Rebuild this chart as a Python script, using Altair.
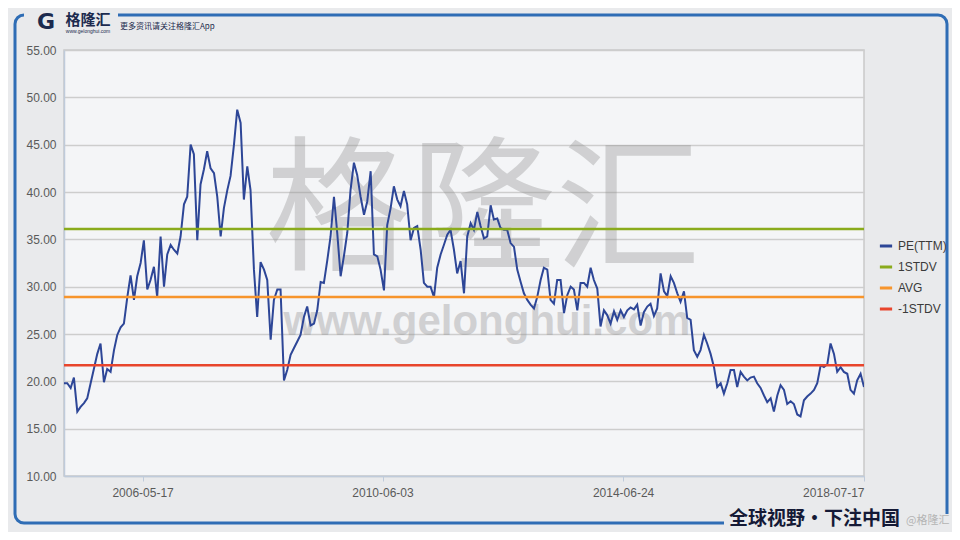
import altair as alt
import pandas as pd

# ---------------- data ----------------
start_date = "2005-01-18"
end_date = "2018-07-17"
tick_dates = ["2006-05-17", "2010-06-03", "2014-06-24", "2018-07-17"]
y_ticks = [10, 15, 20, 25, 30, 35, 40, 45, 50, 55]

pe_values = [
    19.8, 19.8, 19.3, 20.4, 16.8, 17.3, 17.7, 18.2, 19.8, 21.3,
    22.9, 24.0, 19.9, 21.3, 21.0, 23.3, 24.9, 25.7, 26.1, 28.9,
    31.2, 28.6, 31.1, 32.5, 34.9, 29.7, 30.7, 32.1, 28.9, 35.3,
    30.0, 33.4, 34.4, 33.9, 33.5, 35.3, 38.7, 39.5, 45.0, 44.0,
    34.9, 40.8, 42.4, 44.3, 42.5, 42.0, 39.5, 35.3, 38.3, 40.2,
    41.7, 45.0, 48.7, 47.3, 39.2, 42.7, 40.2, 31.8, 26.8, 32.6,
    31.8, 30.7, 24.4, 28.6, 29.7, 29.7, 20.1, 21.2, 22.8, 23.5,
    24.2, 24.9, 26.8, 27.9, 25.9, 26.1, 27.5, 30.5, 30.4, 32.8,
    35.3, 39.5, 35.7, 31.1, 33.2, 35.7, 40.2, 43.1, 41.8,
    39.5, 37.6, 39.0, 42.2, 33.4, 33.2, 31.8, 29.6, 36.5, 38.3,
    40.6, 39.2, 38.5, 40.1, 38.7, 34.9, 36.2, 36.4, 33.9, 30.4,
    30.0, 30.0, 28.9, 32.0, 33.4, 34.4, 35.5, 36.0, 33.9, 31.4,
    32.7, 29.3, 35.3, 36.7, 36.0, 37.9, 36.4, 35.1, 35.3, 38.6,
    37.1, 37.2, 36.2, 36.0, 36.0, 34.6, 34.2, 31.8, 30.5, 29.3,
    28.6, 28.1, 27.7, 28.9, 30.7, 32.0, 31.8, 28.6, 28.2, 30.7,
    30.7, 27.2, 29.1, 30.0, 29.7, 27.5, 30.4, 30.4, 30.0, 32.0,
    30.7, 29.8, 25.8, 27.5,
    27.0, 26.1, 27.4, 26.5, 27.5, 26.8, 27.5, 27.8, 27.6, 28.1,
    25.9, 27.3, 27.9, 28.2, 26.9, 27.7, 31.4, 29.5, 29.0, 31.1,
    30.4, 29.3, 28.4, 29.5, 26.7, 26.5, 23.3, 22.6, 23.3, 24.9,
    24.0, 22.9, 21.5, 19.4, 19.8, 18.7, 19.8, 21.2, 21.2, 19.4,
    21.0, 20.5, 20.1, 20.4, 20.5, 19.8, 19.3, 18.5, 17.8, 18.2,
    16.8, 18.5, 19.6, 19.1, 17.6, 17.9, 17.6, 16.5, 16.3, 18.0,
    18.4, 18.7, 19.1, 19.8, 21.7, 21.5, 21.8, 24.0, 22.9, 21.0,
    21.5, 21.0, 20.8, 19.1, 18.7, 20.1, 20.8, 19.4,
]

band_names = ["1STDV", "AVG", "-1STDV"]
band_values = [36.1, 28.9, 21.7]

series_names = ["PE(TTM)", "1STDV", "AVG", "-1STDV"]
series_colors = ["#2d4697", "#8aab1c", "#f7952c", "#e8452c"]

# ---------------- tables ----------------
dates = pd.date_range(start_date, end_date, periods=len(pe_values)).strftime("%Y-%m-%d")
pe_df = pd.DataFrame({"date": list(dates), "value": pe_values, "series": "PE(TTM)"})
band_df = pd.DataFrame(
    [{"date": d, "value": v, "series": n}
     for n, v in zip(band_names, band_values) for d in (start_date, end_date)]
)


def dt(s):
    y, m, d = (int(p) for p in s.split("-"))
    return alt.DateTime(year=y, month=m, date=d, utc=True)


BG = "#e9eaec"
NAVY = "#1c2a4e"
AXIS_FONT = "Liberation Sans Narrow, Liberation Sans, Arial"

x_enc = alt.X(
    "date:T",
    scale=alt.Scale(type="utc", domain=[dt(start_date), dt(end_date)]),
    axis=alt.Axis(
        values=[dt(t) for t in tick_dates],
        labelExpr="utcFormat(datum.value, '%Y-%m-%d')",
        title=None, grid=False,
        domainColor="#bfcbdb", domainWidth=1.5,
        tickColor="#bfcbdb", tickSize=5,
        labelFont=AXIS_FONT, labelFontSize=12, labelColor="#5a5a5a",
        labelPadding=6,
    ),
)
y_enc = alt.Y(
    "value:Q",
    scale=alt.Scale(domain=[10, 55], nice=False, zero=False),
    axis=alt.Axis(
        values=y_ticks, format=".2f", title=None,
        grid=True, gridColor="#cdcdcd", gridWidth=1.5,
        domainColor="#bfcbdb", domainWidth=1.5, ticks=False,
        labelFont=AXIS_FONT, labelFontSize=12, labelColor="#5a5a5a",
        labelPadding=8,
    ),
)
color_enc = alt.Color(
    "series:N",
    scale=alt.Scale(domain=series_names, range=series_colors),
    sort=series_names,
    legend=alt.Legend(
        orient="none", legendX=814, legendY=188, title=None,
        symbolType="stroke", symbolStrokeWidth=3, symbolSize=150,
        labelFont=AXIS_FONT, labelFontSize=12, labelColor="#3a3a3a",
        rowPadding=7, labelOffset=4,
    ),
)

one = pd.DataFrame({"k": [0]})


def deco_text(text, x, y, **kw):
    return alt.Chart(one).mark_text(text=text, **kw).encode(x=alt.value(x), y=alt.value(y))


frame = alt.Chart(one).mark_rect(
    filled=False, stroke="#2f6db5", strokeWidth=3, cornerRadius=9
).encode(x=alt.value(-49), x2=alt.value(883), y=alt.value(-35), y2=alt.value(473))

cover_top = alt.Chart(one).mark_rect(fill=BG).encode(
    x=alt.value(-40), x2=alt.value(54), y=alt.value(-42), y2=alt.value(-27))
cover_bot = alt.Chart(one).mark_rect(fill=BG).encode(
    x=alt.value(660), x2=alt.value(894), y=alt.value(464), y2=alt.value(486))

logo_g = deco_text("G", -18, -28, font="DejaVu Sans", fontSize=22, fontWeight="bold",
                   color=NAVY, baseline="middle", align="center")
logo_name = deco_text("格隆汇", 24, -30, font="Noto Sans CJK SC", fontSize=15, fontWeight="bold",
                      color=NAVY, baseline="middle", align="center")
logo_url = deco_text("www.gelonghui.com", 24, -19, font="Liberation Sans", fontSize=5,
                     color=NAVY, baseline="middle", align="center")
logo_tag = deco_text("更多资讯请关注格隆汇App", 56, -23, font="Noto Sans CJK SC", fontSize=8,
                     color=NAVY, baseline="middle", align="left")

wm_cn = deco_text("格隆汇", 419, 165, font="Noto Sans CJK SC", fontSize=145,
                  color="#8c8c8c", opacity=0.34, baseline="middle", align="center")
wm_url = deco_text("www.gelonghui.com", 423, 272, font="Liberation Sans", fontSize=42,
                   fontWeight="bold", color="#8c8c8c", opacity=0.34,
                   baseline="middle", align="center")

slogan = deco_text("全球视野・下注中国", 665, 469, font="Noto Sans CJK SC", fontSize=19,
                   fontWeight="bold", color="#151a36", baseline="middle", align="left")
credit = deco_text("@格隆汇", 842, 471, font="Noto Sans CJK SC", fontSize=11,
                   color="#b4b4b4", baseline="middle", align="left")

pe_line = alt.Chart(pe_df).mark_line(strokeWidth=2, clip=True).encode(
    x=x_enc, y=y_enc, color=color_enc)
band_lines = alt.Chart(band_df).mark_line(strokeWidth=2.5).encode(
    x=x_enc, y=y_enc, color=color_enc, detail="series:N")

chart = alt.layer(
    frame, cover_top, cover_bot,
    wm_cn, wm_url,
    pe_line, band_lines,
    logo_g, logo_name, logo_url, logo_tag, slogan, credit,
).properties(
    width=800, height=426,
    padding={"left": 56, "top": 42, "right": 88, "bottom": 56},
    autosize=alt.AutoSizeParams(type="none"),
    background=BG,
).configure_view(
    fill="#f4f5f7", stroke="#c9c9c9", strokeWidth=1.5
)

chart.save("out.html", embed_options={"renderer": "svg", "actions": False})
